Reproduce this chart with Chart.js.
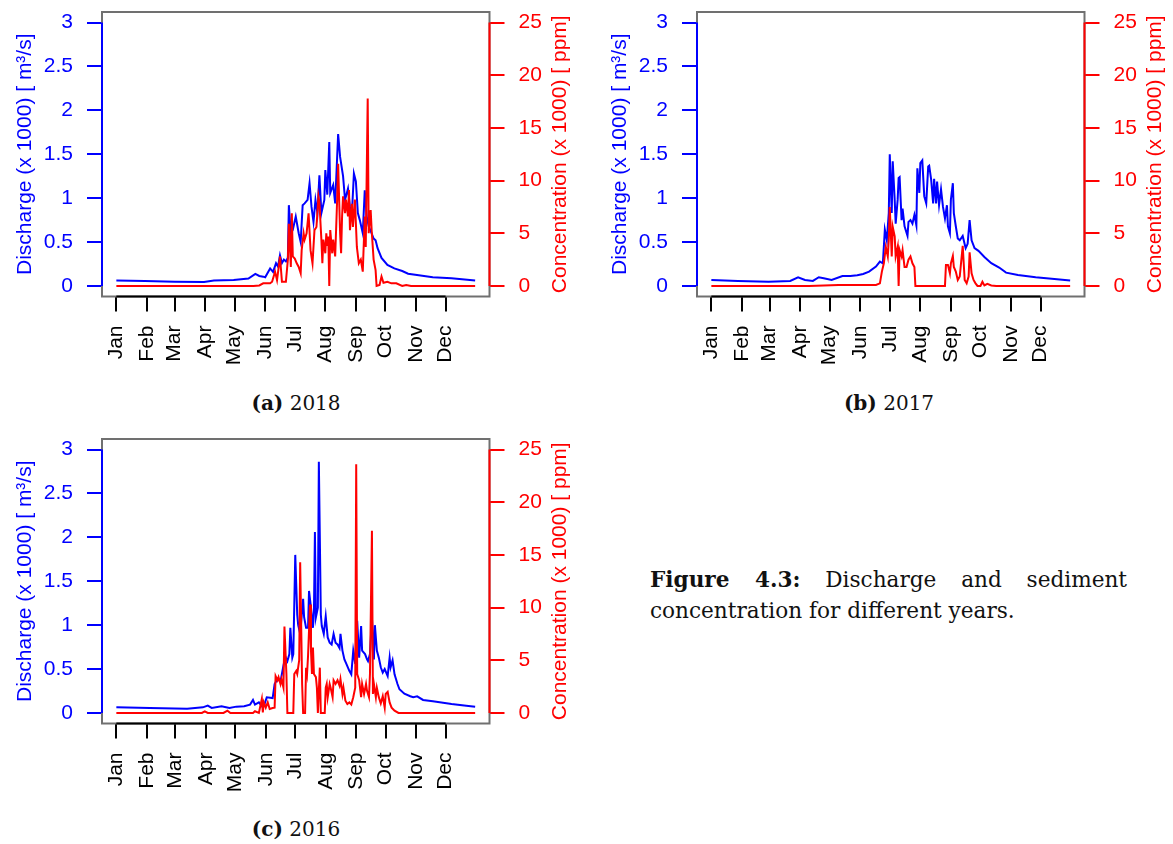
<!DOCTYPE html>
<html>
<head>
<meta charset="utf-8">
<script src="https://cdn.jsdelivr.net/npm/chart.js@4.4.1/dist/chart.umd.min.js"></script>
<style>
  body { margin: 0; background: #fff; width: 1173px; height: 844px; position: relative; overflow: hidden; }
  canvas { position: absolute; }
  .cap { position: absolute; width: 300px; text-align: center; font-family: "DejaVu Serif", serif; font-size: 20px; line-height: 24px; color: #111; }
  #figtext { position: absolute; left: 650px; top: 564px; width: 477px; font-family: "DejaVu Serif", serif; font-size: 21.6px; line-height: 31px; text-align: justify; color: #111; }
</style>
</head>
<body>
<canvas id="chart2018" width="590" height="375" style="left:0;top:0"></canvas>
<canvas id="chart2017" width="578" height="375" style="left:595px;top:0"></canvas>
<canvas id="chart2016" width="590" height="375" style="left:0;top:427px"></canvas>
<div class="cap" style="left:146px;top:391px"><b>(a)</b> 2018</div>
<div class="cap" style="left:739px;top:391px"><b>(b)</b> 2017</div>
<div class="cap" style="left:146px;top:817px"><b>(c)</b> 2016</div>
<div id="figtext"><b>Figure 4.3:</b> Discharge and sediment concentration for different years.</div>

<script>
// month labels and first day of each month (day of year)
const months = ['Jan', 'Feb', 'Mar', 'Apr', 'May', 'Jun', 'Jul', 'Aug', 'Sep', 'Oct', 'Nov', 'Dec'];
const monthStart = [1, 32, 60, 91, 121, 152, 182, 213, 244, 274, 305, 335];
const monthStartLeap = [1, 32, 61, 92, 122, 153, 183, 214, 245, 275, 306, 336];
const qTicks = [0, 0.5, 1, 1.5, 2, 2.5, 3];
const cTicks = [0, 5, 10, 15, 20, 25];

// discharge (x 1000 m3/s), [day of year, value]
const q2018 = [[1,0.061],[30,0.057],[60,0.049],[90,0.046],[100,0.061],[120,0.068],[135,0.084],[142,0.137],[146,0.114],[150,0.106],[152,0.099],[157,0.2],[160,0.16],[163,0.26],[165,0.22],[167,0.35],[169,0.26],[171,0.3],[173,0.28],[175,0.32],[176,0.92],[178,0.6],[180,0.64],[183,0.79],[186,0.6],[188,0.5],[190,0.92],[192,0.94],[195,0.98],[197,1.17],[199,0.9],[201,0.73],[203,0.98],[205,0.83],[207,1.26],[209,0.83],[212,0.98],[213,1.32],[215,1.04],[217,1.64],[218,1.06],[221,1.15],[223,0.94],[226,1.73],[228,1.47],[231,1.25],[233,0.98],[236,1.11],[238,0.9],[240,0.83],[242,1.28],[244,1.19],[246,0.83],[248,0.75],[251,0.6],[253,1.09],[255,0.79],[257,0.68],[260,0.6],[262,0.54],[264,0.52],[266,0.43],[270,0.32],[276,0.24],[283,0.2],[291,0.17],[297,0.14],[306,0.125],[322,0.1],[341,0.087],[365,0.061]];

const q2017 = [[1,0.068],[28,0.057],[59,0.049],[81,0.057],[89,0.099],[96,0.068],[104,0.057],[110,0.099],[115,0.087],[123,0.068],[134,0.114],[142,0.114],[149,0.122],[155,0.137],[161,0.163],[168,0.22],[172,0.277],[175,0.258],[177,0.64],[179,0.52],[181,0.83],[182,1.5],[184,0.83],[185,1.42],[187,0.98],[188,0.71],[190,0.98],[191,1.23],[192,1.24],[194,0.75],[195,0.88],[197,0.68],[200,0.57],[201,0.73],[203,0.75],[205,0.71],[207,0.81],[209,0.69],[210,1.34],[212,1.06],[213,1.4],[215,1.43],[217,1.02],[219,0.94],[221,1.36],[222,1.37],[224,1.21],[226,0.94],[227,1.22],[229,0.94],[230,1.19],[232,0.92],[234,1.1],[236,0.9],[238,0.77],[240,0.92],[241,0.68],[243,0.6],[244,0.98],[246,1.17],[247,0.83],[249,0.68],[251,0.54],[253,0.52],[256,0.57],[259,0.43],[261,0.48],[263,0.75],[265,0.52],[268,0.43],[272,0.4],[278,0.33],[285,0.26],[293,0.21],[300,0.152],[312,0.125],[330,0.099],[349,0.08],[365,0.061]];

const q2016 = [[1,0.064],[35,0.057],[73,0.049],[89,0.064],[94,0.083],[98,0.057],[108,0.076],[116,0.057],[123,0.072],[131,0.076],[137,0.095],[140,0.148],[142,0.095],[146,0.121],[150,0.064],[152,0.11],[154,0.178],[160,0.17],[162,0.33],[165,0.39],[168,0.36],[171,0.54],[173,0.64],[175,0.59],[177,0.67],[178,0.97],[180,0.63],[181,0.67],[183,1.8],[185,1.12],[186,1.0],[188,0.9],[191,1.3],[192,1.09],[194,0.97],[196,0.97],[197,1.39],[199,1.2],[201,0.97],[202,1.16],[203,2.06],[204,1.09],[206,1.2],[207,2.86],[209,1.12],[210,0.99],[212,0.9],[214,1.1],[216,0.86],[218,0.8],[220,0.78],[222,0.9],[224,0.8],[226,0.78],[228,0.74],[229,0.9],[231,0.71],[233,0.61],[235,0.56],[238,0.48],[240,0.44],[242,0.71],[244,0.56],[246,1.05],[248,0.63],[250,0.99],[251,0.71],[254,0.67],[256,0.61],[257,0.59],[259,0.67],[261,1.09],[263,0.61],[264,1.0],[266,0.71],[268,0.63],[270,0.52],[272,0.46],[274,0.5],[277,0.42],[279,0.63],[280,0.52],[282,0.6],[284,0.44],[287,0.33],[289,0.27],[294,0.22],[300,0.19],[303,0.18],[307,0.19],[313,0.148],[323,0.133],[342,0.102],[357,0.083],[366,0.072]];

// sediment concentration (x 1000 ppm), [day of year, value]
const c2018 = [[1,0],[140,0],[146,0.05],[150,0.25],[157,0.25],[159,0.4],[162,1.36],[164,0.55],[166,2.0],[167,2.8],[169,0.4],[173,0.4],[175,2.5],[176,5.9],[178,1.8],[179,6.9],[180,2.8],[182,2.6],[184,2.15],[186,1.8],[188,1.2],[189,3.4],[191,5.0],[192,4.4],[194,5.0],[196,6.9],[198,3.4],[200,2.15],[202,5.3],[204,5.6],[206,8.5],[207,7.9],[209,4.4],[210,2.15],[211,4.4],[213,3.1],[214,5.0],[215,3.8],[216,4.7],[217,0],[218,5.3],[220,3.1],[221,4.4],[223,2.8],[225,8.2],[226,11.6],[228,5.0],[229,3.1],[230,6.6],[231,8.5],[233,6.9],[234,8.2],[236,6.6],[237,9.1],[238,5.3],[240,7.8],[241,5.6],[243,8.2],[245,3.7],[247,2.15],[249,2.5],[251,1.36],[253,6.6],[254,3.7],[256,17.8],[257,5.0],[259,7.2],[260,5.3],[262,2.5],[264,1.5],[265,0],[268,0.1],[270,0.9],[272,0.3],[276,0.4],[280,0.25],[285,0.25],[291,0],[295,0.1],[300,0],[365,0]];

const c2017 = [[1,0],[100,0],[130,0.1],[168,0.1],[172,0.25],[174,1.36],[176,2.15],[178,3.7],[180,2.8],[181,4.4],[182,7.5],[184,2.8],[185,5.6],[187,4.7],[188,2.8],[190,3.7],[191,0],[192,3.4],[194,2.8],[195,3.4],[197,1.8],[199,1.8],[201,2.5],[203,2.8],[205,2.15],[207,1.8],[208,0],[238,0],[239,2.0],[241,2.0],[243,1.2],[244,2.15],[246,2.85],[247,1.8],[249,1.36],[251,0.57],[253,0.9],[256,3.8],[258,0.57],[260,0.25],[262,0.9],[263,3.2],[265,1.2],[267,0.57],[269,0.25],[271,0],[274,0],[276,0.4],[278,0.05],[281,0.2],[285,0.05],[290,0],[365,0]];

const c2016 = [[1,0],[88,0],[91,0.16],[94,0],[110,0],[114,0.22],[117,0],[140,0],[142,0.16],[146,0],[149,1.33],[150,0.06],[151,1.0],[153,0.5],[155,1.0],[157,0.38],[160,0.47],[162,0.5],[163,3.5],[165,3.1],[166,3.4],[168,2.75],[169,3.2],[171,2.4],[172,8.2],[174,3.7],[175,0],[181,0],[182,3.7],[184,4.0],[185,3.7],[187,5.0],[188,14.3],[190,2.7],[191,0],[193,0],[194,4.3],[195,3.7],[196,5.4],[198,10.3],[199,5.9],[200,3.7],[201,6.2],[202,3.7],[204,3.4],[205,2.4],[206,0],[208,4.3],[209,0],[213,0],[214,2.4],[215,2.75],[216,1.5],[218,2.75],[219,2.4],[221,1.5],[222,3.1],[224,2.75],[226,3.1],[228,2.6],[229,3.2],[231,1.8],[232,2.4],[234,1.17],[236,0.85],[238,1.0],[240,0.8],[242,1.5],[244,2.4],[245,23.6],[246,3.7],[248,3.1],[250,1.5],[251,2.75],[253,1.8],[255,2.75],[256,2.1],[258,1.5],[259,3.7],[261,17.3],[262,1.8],[263,2.75],[265,1.5],[266,2.4],[268,1.5],[270,0.9],[272,1.6],[274,0.5],[275,1.8],[277,2.0],[279,1.0],[281,0.5],[284,0.22],[288,0],[366,0]];

const BLUE = '#0000ff';
const RED = '#ff0000';
const qTitle = 'Discharge (x 1000) [ m\u00b3/s]';
const cTitle = 'Concentration (x 1000) [ ppm]';

Chart.defaults.font.family = '"Liberation Sans", Arial, sans-serif';
Chart.defaults.font.size = 21;

// box, R-style axis lines and right-hand title
const framePlugin = {
    id: 'frame',
    afterDraw(chart) {
        const { ctx, chartArea: a, scales } = chart;
        const ms = chart.options.monthStart;
        ctx.save();
        ctx.strokeStyle = '#707070';
        ctx.lineWidth = 2;
        ctx.strokeRect(a.left, a.top, a.right - a.left, a.bottom - a.top);

        ctx.lineWidth = 2;
        ctx.strokeStyle = BLUE;
        ctx.beginPath();
        ctx.moveTo(a.left, scales.y.getPixelForValue(qTicks[0]));
        ctx.lineTo(a.left, scales.y.getPixelForValue(qTicks[qTicks.length - 1]));
        ctx.stroke();

        ctx.strokeStyle = RED;
        ctx.beginPath();
        ctx.moveTo(a.right, scales.y2.getPixelForValue(cTicks[0]));
        ctx.lineTo(a.right, scales.y2.getPixelForValue(cTicks[cTicks.length - 1]));
        ctx.stroke();

        ctx.strokeStyle = '#000';
        ctx.beginPath();
        ctx.moveTo(scales.x.getPixelForValue(ms[0]), a.bottom);
        ctx.lineTo(scales.x.getPixelForValue(ms[ms.length - 1]), a.bottom);
        ctx.stroke();

        ctx.translate(a.right + 71, (a.top + a.bottom) / 2);
        ctx.rotate(-Math.PI / 2);
        ctx.fillStyle = RED;
        ctx.font = '21px "Liberation Sans", Arial, sans-serif';
        ctx.textAlign = 'center';
        ctx.textBaseline = 'middle';
        ctx.fillText(cTitle, 0, 0);
        ctx.restore();
    }
};

function makeChart(id, q, c, ms, nDays) {
    const canvas = document.getElementById(id);
    const W = canvas.width, H = canvas.height;
    const ext = 0.04 * (nDays - 1);
    return new Chart(canvas, {
        type: 'line',
        data: {
            datasets: [
                {
                    label: 'concentration',
                    data: c.map(p => ({ x: p[0], y: p[1] })),
                    yAxisID: 'y2',
                    borderColor: RED,
                    borderWidth: 2,
                    pointRadius: 0,
                    tension: 0,
                    order: 0
                },
                {
                    label: 'discharge',
                    data: q.map(p => ({ x: p[0], y: p[1] })),
                    yAxisID: 'y',
                    borderColor: BLUE,
                    borderWidth: 2,
                    pointRadius: 0,
                    tension: 0,
                    order: 1
                }
            ]
        },
        options: {
            monthStart: ms,
            responsive: false,
            animation: false,
            devicePixelRatio: 1,
            layout: { padding: { top: 12, left: 0, right: 0, bottom: 0 } },
            plugins: { legend: { display: false }, tooltip: { enabled: false } },
            scales: {
                x: {
                    type: 'linear',
                    position: 'bottom',
                    min: 1 - ext,
                    max: nDays + ext,
                    afterBuildTicks: s => { s.ticks = ms.map(v => ({ value: v })); },
                    afterFit: s => { s.height = H - 296.5; s.paddingLeft = 0; s.paddingRight = 0; },
                    border: { display: false },
                    grid: { drawOnChartArea: false, drawTicks: true, tickLength: 15, color: '#000', lineWidth: 2 },
                    ticks: {
                        autoSkip: false,
                        minRotation: 90,
                        maxRotation: 90,
                        padding: 14,
                        color: '#000',
                        callback: (v, i) => months[i]
                    }
                },
                y: {
                    position: 'left',
                    min: -0.12,
                    max: 3.12,
                    afterBuildTicks: s => { s.ticks = qTicks.map(v => ({ value: v })); },
                    afterFit: s => { s.width = 102; s.paddingTop = 0; s.paddingBottom = 0; },
                    border: { display: false },
                    grid: { drawOnChartArea: false, drawTicks: true, tickLength: 15, color: BLUE, lineWidth: 2 },
                    ticks: { autoSkip: false, padding: 14, color: BLUE, callback: v => String(v) },
                    title: { display: true, text: qTitle, color: BLUE, padding: { top: 13, bottom: 0 } }
                },
                y2: {
                    position: 'right',
                    min: -1,
                    max: 26,
                    afterBuildTicks: s => { s.ticks = cTicks.map(v => ({ value: v })); },
                    afterFit: s => { s.width = W - 489.5; s.paddingTop = 0; s.paddingBottom = 0; },
                    border: { display: false },
                    grid: { drawOnChartArea: false, drawTicks: true, tickLength: 15, color: RED, lineWidth: 2 },
                    ticks: { autoSkip: false, padding: 14, color: RED, callback: v => String(v) }
                }
            }
        },
        plugins: [framePlugin]
    });
}

makeChart('chart2018', q2018, c2018, monthStart, 365);
makeChart('chart2017', q2017, c2017, monthStart, 365);
makeChart('chart2016', q2016, c2016, monthStartLeap, 366);
</script>
</body>
</html>
